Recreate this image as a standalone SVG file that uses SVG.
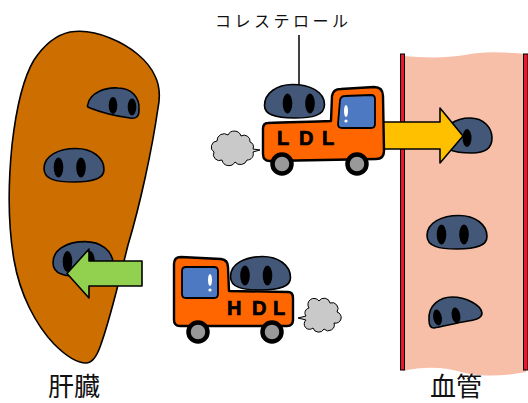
<svg xmlns="http://www.w3.org/2000/svg" width="528" height="403" viewBox="0 0 528 403">
  <style>
    .ol { stroke: #000; stroke-width: 1.6; stroke-linejoin: round; }
    .body { fill: #FF6600; stroke: #000; stroke-width: 2.4; stroke-linejoin: round; }
    .win { fill: #4D79C2; stroke: #000; stroke-width: 1.8; stroke-linejoin: round; }
    .hl { fill: #fff; }
    .wheel { fill: #999; stroke: #000; stroke-width: 4.5; }
    .blob { fill: #435878; stroke: #000; stroke-width: 1.6; stroke-linejoin: round; }
    .eye { fill: #000; }
    .smoke { fill: #C9C9C9; stroke: #000; stroke-width: 1; stroke-linejoin: round; }
    .lbl { font-family: "Liberation Sans", Arial, sans-serif; font-weight: bold; font-size: 20px; fill: #000; stroke: #000; stroke-width: 0.7; }
    .jp { font-family: "Noto Sans CJK JP", "Noto Sans", sans-serif; fill: #111; }
    .wall { fill: #E8192E; stroke: #000; stroke-width: 1; }
  </style>
  <defs>
    <!-- cholesterol particle: dome top, flatter bottom, two eyes -->
    <g id="chol">
      <path class="blob" d="M -30,3 C -30,-10 -15,-17 2,-17 C 18,-17 30,-8 30,4 C 30,13 20,16.5 0,16.5 C -18,16.5 -30,14 -30,3 Z"/>
      <ellipse class="eye" cx="-15.5" cy="2" rx="4.8" ry="10"/>
      <ellipse class="eye" cx="7" cy="2" rx="4.8" ry="10"/>
    </g>
  </defs>

  <!-- liver -->
  <g id="liver">
    <path class="ol" fill="#CC6F00" d="M 70,32 C 82,30 96,32 110,38 C 130,46 148,60 155,76 C 160,86 160,98 158,108 C 152,150 140,205 128,245 C 118,285 110,320 100,347 C 96,358 92,363 86,363 C 78,363 66,356 54,344 C 36,325 20,295 14,260 C 8,225 8,185 12,145 C 16,110 22,80 34,60 C 44,45 56,35 70,32 Z"/>
    <path class="blob" d="M 88,104 C 90,93 105,87 118,88 C 132,88 140,98 139,110 C 139,117 136,119 130,118 C 115,116 100,112 90,108 C 87,107 87,106 88,104 Z"/>
    <ellipse class="eye" cx="113" cy="105.5" rx="4.3" ry="8.5"/>
    <ellipse class="eye" cx="132" cy="107" rx="4.3" ry="8.5"/>
    <use href="#chol" transform="translate(74,165.5)"/>
    <use href="#chol" transform="translate(83,259.5) scale(1,1.05)"/>
    <text class="jp" x="48" y="396" font-size="26">肝臓</text>
  </g>

  <!-- blood vessel -->
  <g id="vessel">
    <path fill="#F8BFA8" d="M 403,56 C 425,58 448,58 465,55 C 482,51 503,52 526,54 L 526,372 C 505,376 485,377 465,373 C 445,367 425,366 403,371 Z"/>
    <rect class="wall" x="400.5" y="54" width="4" height="316"/>
    <rect class="wall" x="523.5" y="54" width="4.5" height="316"/>
    <path class="blob" d="M 442,140 C 442,126 456,118 470,118 C 484,118 492,128 492,138 C 492,148 486,153 472,153 C 455,153 442,150 442,140 Z"/>
    <ellipse class="eye" cx="467" cy="138" rx="4.5" ry="9"/>
    <use href="#chol" transform="translate(457,232.5)"/>
    <path class="blob" d="M 429,320 C 428,305 440,297 452,297 C 466,297 481,305 482,313 C 482,318 476,320 468,321 C 455,323 442,327 434,328 C 430,328 429,324 429,320 Z"/>
    <ellipse class="eye" cx="437.5" cy="317.5" rx="4.3" ry="8" transform="rotate(-10 437.5 317.5)"/>
    <ellipse class="eye" cx="456" cy="315.5" rx="4.3" ry="8" transform="rotate(-10 456 315.5)"/>
    <text class="jp" x="430" y="396" font-size="26">血管</text>
  </g>

  <!-- transfer arrows -->
  <g id="connectors">
    <polygon class="ol" fill="#FFC000" points="378,122 440,122 440,108 463,136 440,163 440,149 378,149"/>
    <polygon class="ol" fill="#92D050" points="142,261 89,261 89,249 67,273.5 89,298 89,286 142,286"/>
  </g>

  <!-- LDL truck heading to the vessel -->
  <g id="ldl-truck">
    <path class="smoke" d="M 253,149 L 260,150 L 253,152 A 6,6 0 0 1 247,160 A 7,7 0 0 1 235,162 A 7,7 0 0 1 222,160 A 6,6 0 0 1 214,152 A 6,6 0 0 1 217,141 A 7,7 0 0 1 228,135 A 7,7 0 0 1 241,136 A 6,6 0 0 1 250,142 A 5,5 0 0 1 253,149 Z"/>
    <use href="#chol" transform="translate(294.5,101.5) scale(-1,1)"/>
    <path class="body" d="M 268,123 C 290,122 310,122 331,121 L 332,96 Q 333,89 341,89 L 374,87 Q 383,87 383,96 L 384,151 Q 384,159 376,159 L 270,161 Q 263,161 263,154 L 263,129 Q 263,123 268,123 Z"/>
    <path class="win" d="M 340,100 Q 341,96 345,96 L 371,95 Q 375,95 375,99 L 375,124 Q 375,128 371,128 L 342,128 Q 338,128 338,124 Z"/>
    <ellipse class="hl" cx="346" cy="111" rx="2" ry="6"/>
    <circle class="hl" cx="346" cy="121" r="1.6"/>
    <text class="lbl" y="145"><tspan x="277">L</tspan><tspan x="299">D</tspan><tspan x="322">L</tspan></text>
    <circle class="wheel" cx="282" cy="164" r="9.5"/>
    <circle class="wheel" cx="357" cy="164" r="9.5"/>
  </g>

  <!-- HDL truck heading to the liver -->
  <g id="hdl-truck">
    <path class="smoke" d="M 306,316 L 298,318 L 306,320 A 5,5 0 0 0 313,328 A 6,6 0 0 0 324,329 A 6,6 0 0 0 334,323 A 5,5 0 0 0 337,312 A 6,6 0 0 0 330,303 A 6,6 0 0 0 319,301 A 6,6 0 0 0 309,308 A 5,5 0 0 0 306,316 Z"/>
    <use href="#chol" transform="translate(260.5,273.5)"/>
    <path class="body" d="M 181,257 L 221,259 Q 228,260 228,267 L 229,291 L 288,292 Q 293,292 293,298 L 293,320 Q 293,326 287,326 L 180,326 Q 174,326 174,320 L 174,264 Q 174,257 181,257 Z"/>
    <path class="win" d="M 186,267 L 214,267 Q 218,267 218,271 L 218,294 Q 218,298 214,298 L 186,298 Q 182,298 182,294 L 182,271 Q 182,267 186,267 Z"/>
    <ellipse class="hl" cx="210" cy="280" rx="2" ry="6"/>
    <circle class="hl" cx="210" cy="290" r="1.6"/>
    <text class="lbl" y="315"><tspan x="227">H</tspan><tspan x="252">D</tspan><tspan x="273">L</tspan></text>
    <circle class="wheel" cx="198" cy="332" r="9.5"/>
    <circle class="wheel" cx="272" cy="332" r="9.5"/>
  </g>

  <!-- callout -->
  <g id="label-cholesterol">
    <line x1="299" y1="35" x2="299" y2="85" stroke="#000" stroke-width="1.5"/>
    <text class="jp" x="215" y="27" font-size="16" textLength="133" lengthAdjust="spacing">コレステロール</text>
  </g>
</svg>
